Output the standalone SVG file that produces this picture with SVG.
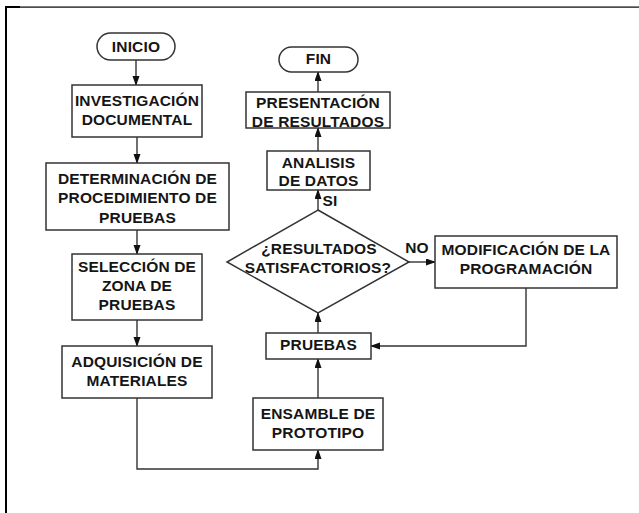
<svg xmlns="http://www.w3.org/2000/svg" width="639" height="513" viewBox="0 0 639 513">
<style>
.box{fill:#fff;stroke:#333;stroke-width:1.5}
.t{font-family:"Liberation Sans",Arial,sans-serif;font-weight:bold;font-size:15.5px;letter-spacing:0.15px;fill:#151515;text-anchor:middle}
.c{fill:none;stroke:#333;stroke-width:1.4}
</style>
<defs>
<marker id="ah" markerWidth="10" markerHeight="8" refX="9" refY="3.5" orient="auto" markerUnits="userSpaceOnUse">
<path d="M0,0 L10,3.5 L0,7 Z" fill="#111"/>
</marker>
</defs>
<rect width="639" height="513" fill="#fff"/>
<g id="frame">
<rect x="5" y="6.5" width="634" height="1.2" fill="#000"/>
<rect x="5" y="6" width="15" height="2" fill="#000"/>
<rect x="5" y="6" width="2" height="507" fill="#000"/>
</g>
<g id="connectors">
<path class="c" d="M136,60 V85" marker-end="url(#ah)"/>
<path class="c" d="M137,137 V163" marker-end="url(#ah)"/>
<path class="c" d="M137,230 V254" marker-end="url(#ah)"/>
<path class="c" d="M137,320 V346" marker-end="url(#ah)"/>
<path class="c" d="M137,398 V469 H318 V450" marker-end="url(#ah)"/>
<path class="c" d="M318,398 V359" marker-end="url(#ah)"/>
<path class="c" d="M318,333 V313" marker-end="url(#ah)"/>
<path class="c" d="M318,210 V190" marker-end="url(#ah)"/>
<path class="c" d="M318,151 V128" marker-end="url(#ah)"/>
<path class="c" d="M318,92 V72" marker-end="url(#ah)"/>
<path class="c" d="M409,262 H435" marker-end="url(#ah)"/>
<path class="c" d="M526,288 V346 H371" marker-end="url(#ah)"/>
<text class="t" x="330" y="206">SI</text>
<text class="t" x="417" y="253">NO</text>
</g>
<g id="inicio">
<rect class="box" x="97" y="33" width="78" height="27" rx="13.5"/>
<text class="t" x="136" y="51.5">INICIO</text>
</g>
<g id="investigacion">
<rect class="box" x="72" y="85" width="130" height="52"/>
<text class="t" x="137" y="106">INVESTIGACIÓN</text>
<text class="t" x="137" y="125">DOCUMENTAL</text>
</g>
<g id="determinacion">
<rect class="box" x="46" y="163" width="183" height="67"/>
<text class="t" x="137.5" y="183.5">DETERMINACIÓN DE</text>
<text class="t" x="137.5" y="203">PROCEDIMIENTO DE</text>
<text class="t" x="137.5" y="222.5">PRUEBAS</text>
</g>
<g id="seleccion">
<rect class="box" x="72" y="254" width="130" height="66"/>
<text class="t" x="137" y="272">SELECCIÓN DE</text>
<text class="t" x="137" y="291">ZONA DE</text>
<text class="t" x="137" y="310">PRUEBAS</text>
</g>
<g id="adquisicion">
<rect class="box" x="62" y="346" width="150" height="52"/>
<text class="t" x="137" y="367">ADQUISICIÓN DE</text>
<text class="t" x="137" y="386">MATERIALES</text>
</g>
<g id="ensamble">
<rect class="box" x="253" y="398" width="130" height="52"/>
<text class="t" x="318" y="418.5">ENSAMBLE DE</text>
<text class="t" x="318" y="437.5">PROTOTIPO</text>
</g>
<g id="pruebas">
<rect class="box" x="266" y="333" width="105" height="26"/>
<text class="t" x="318.5" y="349.5">PRUEBAS</text>
</g>
<g id="decision">
<polygon class="box" points="318,210 409,262 318,313 227,262"/>
<text class="t" x="319" y="254">¿RESULTADOS</text>
<text class="t" x="318" y="273">SATISFACTORIOS?</text>
</g>
<g id="modificacion">
<rect class="box" x="435" y="236" width="182" height="52"/>
<text class="t" x="526" y="255">MODIFICACIÓN DE LA</text>
<text class="t" x="526" y="274">PROGRAMACIÓN</text>
</g>
<g id="analisis">
<rect class="box" x="267" y="151" width="103" height="39"/>
<text class="t" x="318.5" y="167.5">ANALISIS</text>
<text class="t" x="318.5" y="186">DE DATOS</text>
</g>
<g id="presentacion">
<rect class="box" x="246" y="92" width="144" height="36"/>
<text class="t" x="318" y="108">PRESENTACIÓN</text>
<text class="t" x="318" y="126.5">DE RESULTADOS</text>
</g>
<g id="fin">
<rect class="box" x="279" y="47" width="79" height="25" rx="12.5"/>
<text class="t" x="318.5" y="64">FIN</text>
</g>
</svg>
